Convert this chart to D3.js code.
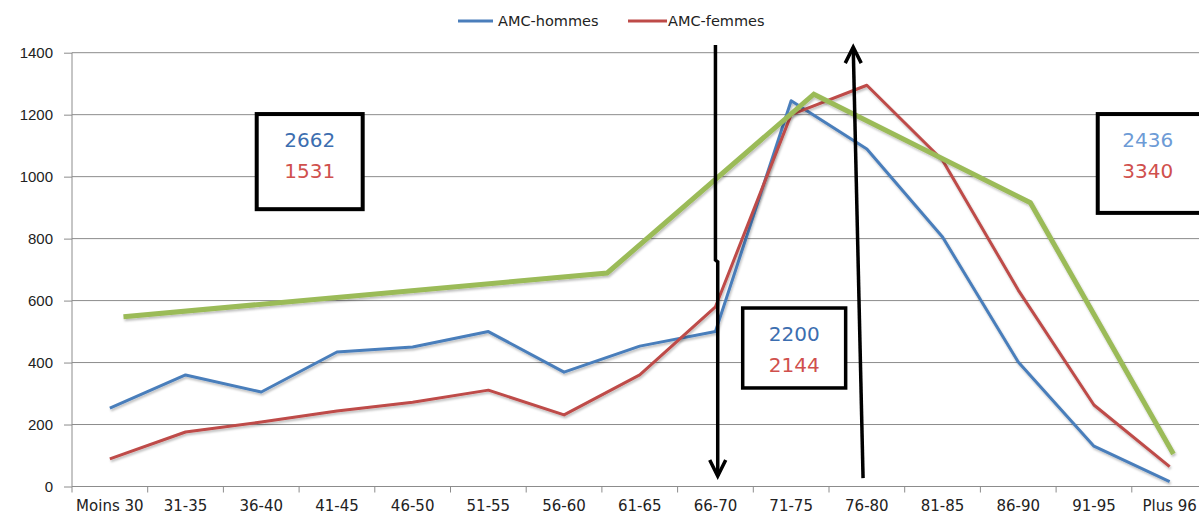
<!DOCTYPE html>
<html>
<head>
<meta charset="utf-8">
<script src="https://cdn.jsdelivr.net/npm/d3@7/dist/d3.min.js"></script>
<style>
  html, body { margin: 0; padding: 0; background: #fff; }
  svg { display: block; font-family: "DejaVu Sans", sans-serif; }
</style>
</head>
<body>
<svg id="chart" width="1199" height="517"></svg>
<script>
// Age groups (x categories)
const categories = ["Moins 30", "31-35", "36-40", "41-45", "46-50", "51-55", "56-60",
  "61-65", "66-70", "71-75", "76-80", "81-85", "86-90", "91-95", "Plus 96"];

// Series values
const hommes = [253, 360, 305, 434, 450, 500, 369, 453, 500, 1245, 1089, 805, 402, 130, 16];
const femmes = [89, 176, 208, 244, 272, 311, 231, 360, 580, 1200, 1295, 1053, 634, 263, 64];

// Hand drawn green trend line: position in category units + value
const trendPos = [0.18, 6.57, 9.3, 12.16, 14.05];
const trendValues = [548, 689, 1266, 916, 105];

const yTicks = [0, 200, 400, 600, 800, 1000, 1200, 1400];

// Boxed totals: [hommes, femmes]
const boxTexts = [["2662", "1531"], ["2200", "2144"], ["2436", "3340"]];

const COLORS = {
  hommes: "#4a7ebb",
  femmes: "#be4b48",
  trend: "#9bbb59",
  grid: "#8c8c8c"
};

const width = 1199, height = 517;
const svg = d3.select("#chart");

// Scales
const x = d3.scaleLinear().domain([-0.5, categories.length - 0.5]).range([72, 1207.5]);
const y = d3.scaleLinear().domain([0, 1400]).range([486.5, 52.7]);

// soft shadow like the spreadsheet lines
const defs = svg.append("defs");
const shadow = defs.append("filter").attr("id", "shadow")
  .attr("x", "-5%").attr("y", "-5%").attr("width", "110%").attr("height", "120%");
shadow.append("feDropShadow")
  .attr("dx", 1).attr("dy", 2).attr("stdDeviation", 1.2)
  .attr("flood-color", "#000").attr("flood-opacity", 0.25);

// Gridlines + y axis
svg.append("g")
  .attr("transform", `translate(72,0)`)
  .call(d3.axisLeft(y).tickValues(yTicks).tickFormat(d3.format("d")).tickSize(8).tickPadding(3))
  .call(g => g.select(".domain").attr("stroke", COLORS.grid).attr("d", `M0,${y(1400)}V${y(0)}`))
  .call(g => g.selectAll(".tick line").attr("stroke", COLORS.grid))
  .call(g => g.selectAll(".tick text")
    .attr("font-size", "15px").attr("fill", "#222").attr("x", -19));

svg.append("g").selectAll("line")
  .data(yTicks.filter(d => d > 0))
  .join("line")
  .attr("x1", 72).attr("x2", width)
  .attr("y1", d => y(d)).attr("y2", d => y(d))
  .attr("stroke", COLORS.grid).attr("stroke-width", 1);

// x axis
const xg = svg.append("g");
xg.append("line")
  .attr("x1", 72).attr("x2", width)
  .attr("y1", y(0)).attr("y2", y(0))
  .attr("stroke", COLORS.grid);
xg.selectAll("line.tick")
  .data(d3.range(categories.length))
  .join("line")
  .attr("class", "tick")
  .attr("x1", i => x(i - 0.5)).attr("x2", i => x(i - 0.5))
  .attr("y1", y(0)).attr("y2", y(0) + 6)
  .attr("stroke", COLORS.grid);
xg.selectAll("text")
  .data(categories)
  .join("text")
  .attr("x", (d, i) => x(i))
  .attr("y", 511)
  .attr("text-anchor", "middle")
  .attr("font-size", "15px")
  .attr("fill", "#222")
  .text(d => d);

// Lines
const line = d3.line().x((d, i) => x(i)).y(d => y(d));

svg.append("path")
  .datum(hommes)
  .attr("d", line)
  .attr("fill", "none")
  .attr("stroke", COLORS.hommes)
  .attr("stroke-width", 3)
  .attr("stroke-linejoin", "round")
  .attr("filter", "url(#shadow)");

svg.append("path")
  .datum(femmes)
  .attr("d", line)
  .attr("fill", "none")
  .attr("stroke", COLORS.femmes)
  .attr("stroke-width", 3)
  .attr("stroke-linejoin", "round")
  .attr("filter", "url(#shadow)");

const trendLine = d3.line().x(d => x(d[0])).y(d => y(d[1]));
svg.append("path")
  .datum(trendPos.map((p, i) => [p, trendValues[i]]))
  .attr("d", trendLine)
  .attr("fill", "none")
  .attr("stroke", COLORS.trend)
  .attr("stroke-width", 5)
  .attr("stroke-linejoin", "miter")
  .attr("filter", "url(#shadow)");

// Legend
const legend = svg.append("g");
const legendItems = [
  { label: "AMC-hommes", color: COLORS.hommes, x0: 458, x1: 493, tx: 498 },
  { label: "AMC-femmes", color: COLORS.femmes, x0: 628, x1: 667, tx: 668 }
];
legendItems.forEach(it => {
  legend.append("line")
    .attr("x1", it.x0).attr("x2", it.x1).attr("y1", 21).attr("y2", 21)
    .attr("stroke", it.color).attr("stroke-width", 3);
  legend.append("text")
    .attr("x", it.tx).attr("y", 26)
    .attr("font-size", "14.5px").attr("fill", "#222")
    .text(it.label);
});

// Annotation boxes (in category / value units)
const boxes = [
  { x0: 1.94, x1: 3.34, v0: 1202, v1: 895, sw: 4, c1: "#3c6eb0", c2: "#d0504d" },
  { x0: 8.36, x1: 9.72, v0: 576, v1: 318, sw: 3.5, c1: "#3c6eb0", c2: "#d0504d" },
  { x0: 13.05, x1: 14.5, v0: 1202, v1: 883, sw: 4, c1: "#6d9bd6", c2: "#d0504d" }
];
boxes.forEach((b, i) => {
  const bx = x(b.x0), bw = x(b.x1) - x(b.x0);
  const by = y(b.v0), bh = y(b.v1) - y(b.v0);
  svg.append("rect")
    .attr("x", bx).attr("y", by).attr("width", bw).attr("height", bh)
    .attr("fill", "#fff").attr("stroke", "#000").attr("stroke-width", b.sw);
  const cx = i === 2 ? bx + 50 : bx + bw / 2;
  svg.append("text")
    .attr("x", cx).attr("y", by + 33)
    .attr("text-anchor", "middle").attr("font-size", "20px")
    .attr("fill", b.c1).text(boxTexts[i][0]);
  svg.append("text")
    .attr("x", cx).attr("y", by + 64)
    .attr("text-anchor", "middle").attr("font-size", "20px")
    .attr("fill", b.c2).text(boxTexts[i][1]);
});

// Hand drawn arrows
const arrows = [
  [[8.0, 1425], [8.0, 731], [8.03, 725], [8.03, 34]],   // down
  [[9.95, 27], [9.82, 1418]]                              // up
];
const arrowLine = d3.line().x(d => x(d[0])).y(d => y(d[1]));
arrows.forEach(pts => {
  svg.append("path")
    .attr("d", arrowLine(pts))
    .attr("fill", "none").attr("stroke", "#000")
    .attr("stroke-width", 3.5);
  const end = pts[pts.length - 1];
  const ex = x(end[0]), ey = y(end[1]);
  const dir = end[1] > pts[0][1] ? 1 : -1; // 1 = pointing up
  svg.append("path")
    .attr("d", `M${ex - 8},${ey + dir * 16}L${ex},${ey}L${ex + 8},${ey + dir * 16}`)
    .attr("fill", "none").attr("stroke", "#000")
    .attr("stroke-width", 3.5).attr("stroke-linejoin", "miter");
});
</script>
</body>
</html>
